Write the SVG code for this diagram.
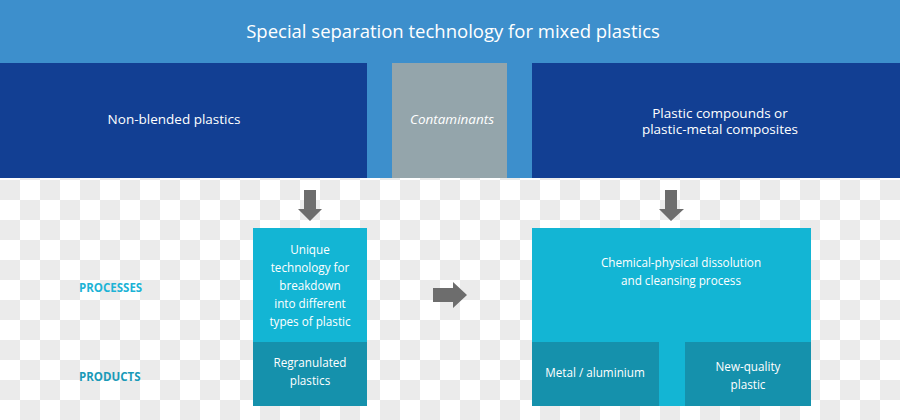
<svg xmlns="http://www.w3.org/2000/svg" width="900" height="420" viewBox="0 0 900 420">
<defs>
<pattern id="chk" x="0" y="180" width="40" height="40" patternUnits="userSpaceOnUse">
<rect width="40" height="40" fill="#ffffff"/>
<rect x="0" y="0" width="20" height="20" fill="#ebebeb"/>
<rect x="20" y="20" width="20" height="20" fill="#ebebeb"/>
</pattern>
<style>
text{font-family:"Open Sans","DejaVu Sans",sans-serif;fill:#ffffff;text-anchor:middle}
.h1{font-size:18.5px}
.h2{font-size:13.5px}
.b{font-size:11.7px}
.lab{font-size:11.5px;font-weight:bold;text-anchor:start}
.arr{fill:#6d6d6d}
.proc{fill:#13b5d4}
.prod{fill:#1591ac}
.dark{fill:#123f93}
</style>
</defs>
<rect x="0" y="0" width="900" height="420" fill="url(#chk)"/>
<g id="header">
<rect x="0" y="0" width="900" height="178" fill="#3d8fcc"/>
<text class="h1" x="453" y="38">Special separation technology for mixed plastics</text>
</g>
<g id="non-blended">
<rect class="dark" x="0" y="63" width="367" height="115"/>
<text class="h2" x="174" y="124">Non-blended plastics</text>
</g>
<g id="contaminants">
<rect x="392" y="63" width="115" height="115" fill="#94a5ab"/>
<text class="h2" x="452" y="124" font-style="italic">Contaminants</text>
</g>
<g id="compounds">
<rect class="dark" x="532" y="63" width="368" height="115"/>
<text class="h2" x="720" y="118">Plastic compounds or</text>
<text class="h2" x="720" y="134">plastic-metal composites</text>
</g>
<g id="label-processes"><text class="lab" x="79" y="292" style="fill:#1cb3d6">PROCESSES</text></g>
<g id="label-products"><text class="lab" x="79" y="381" style="fill:#1a9ab8">PRODUCTS</text></g>
<g id="unique-tech">
<rect class="proc" x="253" y="228" width="114" height="114"/>
<text class="b" x="310" y="254">Unique</text>
<text class="b" x="310" y="272">technology for</text>
<text class="b" x="310" y="290">breakdown</text>
<text class="b" x="310" y="308">into different</text>
<text class="b" x="310" y="326">types of plastic</text>
</g>
<g id="regranulated">
<rect class="prod" x="253" y="342" width="114" height="64"/>
<text class="b" x="310" y="367">Regranulated</text>
<text class="b" x="310" y="385">plastics</text>
</g>
<g id="chemical">
<rect class="proc" x="532" y="228" width="279" height="178"/>
<text class="b" x="681" y="267">Chemical-physical dissolution</text>
<text class="b" x="681" y="285">and cleansing process</text>
</g>
<g id="metal">
<rect class="prod" x="532" y="342" width="127" height="64"/>
<text class="b" x="595" y="377">Metal / aluminium</text>
</g>
<g id="new-quality">
<rect class="prod" x="685" y="342" width="126" height="64"/>
<text class="b" x="748" y="371">New-quality</text>
<text class="b" x="748" y="389">plastic</text>
</g>
<g id="connectors">
<polygon class="arr" points="304,190 316,190 316,209 322,209 310,221 298,209 304,209"/>
<polygon class="arr" points="665,190 677,190 677,209 684,209 671,221 659,209 665,209"/>
<polygon class="arr" points="433,288 453,288 453,282 467,295 453,308 453,302 433,302"/>
</g>
</svg>
